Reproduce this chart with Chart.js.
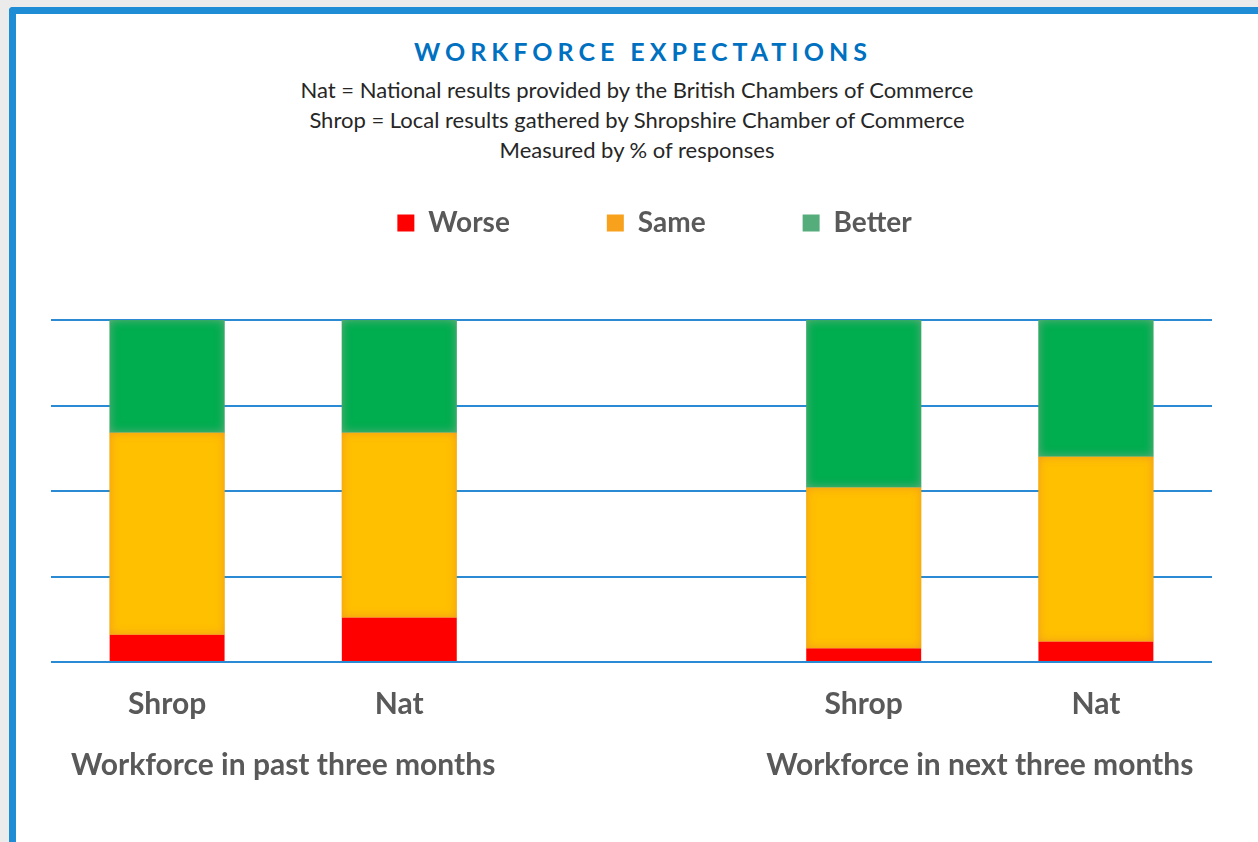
<!DOCTYPE html>
<html>
<head>
<meta charset="utf-8">
<script src="https://cdn.jsdelivr.net/npm/chart.js@4.4.1/dist/chart.umd.min.js"></script>
<style>
  html, body { margin: 0; padding: 0; width: 1258px; height: 842px; overflow: hidden; background: #ebebeb; font-family: Lato, sans-serif; }
  #panel { position: absolute; left: 9px; top: 7px; right: -20px; bottom: -20px; background: #fff;
           border-top: 7px solid #1f8dd6; border-left: 7px solid #1f8dd6; border-top-left-radius: 4px; }
  .head { position: absolute; left: 0; width: 1258px; text-align: center; white-space: nowrap; }
  #title { top: 36px; padding-left: 28px; box-sizing: border-box; font-weight: bold; font-size: 25px; line-height: 30px;
           letter-spacing: 5px; color: #0070c0; }
  #sub { top: 75px; padding-left: 16px; box-sizing: border-box; font-size: 22px; line-height: 30px; color: #262626; }
  #wrap { position: absolute; left: 0; top: 0; width: 1258px; height: 842px; }
</style>
</head>
<body>
<div id="panel"></div>
<div class="head" id="title">WORKFORCE EXPECTATIONS</div>
<div class="head" id="sub">Nat = National results provided by the British Chambers of Commerce<br>Shrop = Local results gathered by Shropshire Chamber of Commerce<br>Measured by % of responses</div>
<div id="wrap"><canvas id="chart" width="1258" height="842"></canvas></div>
<script>
// categories (middle slot is the empty gap between the two groups)
const categories = ['Shrop', 'Nat', '', 'Shrop', 'Nat'];
const groupLabels = ['Workforce in past three months', 'Workforce in next three months'];
const groupPositions = [0.5, 3.5];

// % of responses
const worse = [8, 13, null, 4, 6];
const same = [59, 54, null, 47, 54];
const better = [33, 33, null, 49, 40];

const yTicks = [0, 25, 50, 75, 100];
const legendColors = ['#ff0000', '#f7a11c', '#56ad7c'];
const glowColors = [null, 'rgba(238,150,30,0.95)', 'rgba(120,170,135,0.95)'];

const labelFont = { family: 'Lato', size: 30, weight: 'bold' };

// legend sits higher and a bit right of the plot centre in the original
const legendShift = {
  id: 'legendShift',
  afterLayout(chart) {
    const lg = chart.legend;
    lg.left += 23; lg.right += 23;
    lg.top -= 73; lg.bottom -= 73;
  }
};

// soft inner glow on the orange and green segments
const innerGlow = {
  id: 'innerGlow',
  afterDatasetsDraw(chart) {
    const c = chart.ctx;
    chart.data.datasets.forEach(function(ds, di) {
      if (!glowColors[di]) return;
      chart.getDatasetMeta(di).data.forEach(function(bar) {
        const p = bar.getProps(['x', 'y', 'base', 'width']);
        if (isNaN(p.y)) return;
        const left = p.x - p.width / 2;
        const top = Math.min(p.y, p.base);
        const h = Math.abs(p.base - p.y);
        c.save();
        c.beginPath();
        c.rect(left, top, p.width, h);
        c.clip();
        c.shadowColor = glowColors[di];
        c.shadowBlur = 10;
        c.lineWidth = 10;
        c.strokeStyle = glowColors[di];
        c.strokeRect(left - 5, top - 5, p.width + 10, h + 10);
        c.restore();
      });
    });
  }
};

const ctx = document.getElementById('chart').getContext('2d');
new Chart(ctx, {
  type: 'bar',
  data: {
    labels: categories,
    datasets: [{
      label: 'Worse',
      data: worse,
      backgroundColor: '#ff0000',
      borderWidth: 0
    }, {
      label: 'Same',
      data: same,
      backgroundColor: '#ffc000',
      borderWidth: 0
    }, {
      label: 'Better',
      data: better,
      backgroundColor: '#00ad4f',
      borderWidth: 0
    }]
  },
  options: {
    responsive: false,
    animation: false,
    layout: { padding: { left: 51, right: 46, top: 185, bottom: 58 } },
    datasets: { bar: { categoryPercentage: 1, barPercentage: 0.495 } },
    plugins: {
      legend: {
        position: 'top',
        labels: {
          font: { family: 'Lato', size: 28, weight: 'bold' },
          color: '#595959',
          boxWidth: 17,
          boxHeight: 17,
          padding: 97,
          generateLabels: function(chart) {
            const items = Chart.defaults.plugins.legend.labels.generateLabels(chart);
            items.forEach(function(it, i) {
              it.fillStyle = legendColors[i];
              it.strokeStyle = legendColors[i];
              it.lineWidth = 0;
            });
            return items;
          }
        }
      },
      tooltip: { enabled: false }
    },
    scales: {
      x: {
        stacked: true,
        grid: { display: false, drawTicks: false },
        border: { display: false },
        ticks: { font: labelFont, color: '#595959', padding: 24 }
      },
      x2: {
        type: 'linear',
        position: 'bottom',
        offset: false,
        min: -0.5,
        max: 4.5,
        grid: { display: false, drawTicks: false, offset: false },
        border: { display: false },
        afterBuildTicks: function(axis) {
          axis.ticks = groupPositions.map(v => ({ value: v }));
        },
        ticks: {
          font: labelFont,
          color: '#595959',
          padding: 1,
          autoSkip: false,
          maxRotation: 0,
          callback: function(v) { return groupLabels[groupPositions.indexOf(v)]; }
        }
      },
      y: {
        stacked: true,
        min: 0,
        max: 100,
        afterBuildTicks: function(axis) {
          axis.ticks = yTicks.map(v => ({ value: v }));
        },
        ticks: { display: false },
        grid: { color: '#2b8ad4', lineWidth: 2, drawTicks: false },
        border: { display: false }
      }
    }
  },
  plugins: [legendShift, innerGlow]
});
</script>
</body>
</html>
